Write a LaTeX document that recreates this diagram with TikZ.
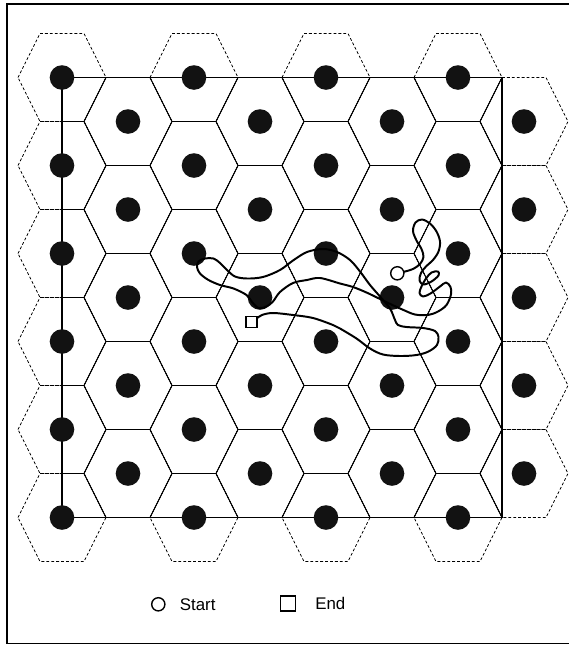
\documentclass[tikz,border=0pt]{standalone}
\usepackage{fontspec}
\setmainfont{Liberation Sans}
\usetikzlibrary{positioning}

\newcommand{\forsites}[1]{%
  \foreach \cx in {62,194,326,458}{\foreach \cy in {77.5,165.5,253.5,341.5,429.5,517.5}{#1}}%
  \foreach \cx in {128,260,392,524}{\foreach \cy in {121.5,209.5,297.5,385.5,473.5}{#1}}%
}

\begin{document}
\begin{tikzpicture}[
  x=0.025cm, y=-0.025cm,
  cell/.style={line width=0.5pt},
  outcell/.style={cell,dash pattern=on 2pt off 1.5pt},
  site/.style={fill=black!93},
  box/.style={line width=1.2pt},
  frame/.style={line width=1.4pt},
  walk/.style={line width=1.4pt,line join=round},
  startmark/.style={circle,draw,fill=white,line width=1pt,minimum size=3.3mm,inner sep=0pt},
  endmark/.style={rectangle,draw,fill=white,line width=1pt,minimum size=2.8mm,inner sep=0pt},
  legend/.style={font=\fontsize{12}{14}\selectfont,inner sep=0pt}
]
\useasboundingbox (0,0) rectangle (569,646);
\coordinate (framenw) at (7,4);
\coordinate (framese) at (590,643.5);
\coordinate (sqnw) at (62,77.5);
\coordinate (sqse) at (502,517.5);
\coordinate (s0) at (397.3,273.3);
\coordinate (e0) at (251.5,322);

\draw[frame] (framenw) rectangle (framese);

\forsites{\draw[outcell] (\cx-44,\cy) -- ++(22,-44) -- ++(44,0) -- ++(22,44) -- ++(-22,44) -- ++(-44,0) -- cycle;}
\begin{scope}
  \clip (sqnw) rectangle (sqse);
  \forsites{\draw[cell] (\cx-44,\cy) -- ++(22,-44) -- ++(44,0) -- ++(22,44) -- ++(-22,44) -- ++(-44,0) -- cycle;}
\end{scope}
\draw[box] (sqnw) rectangle (sqse);
\forsites{\fill[site] (\cx,\cy) circle[radius=12.3];}

\draw[walk] plot[smooth,tension=0.55] coordinates {
  (s0) (405,271.5) (413,269) (420,264) (423.5,257) (421.5,249) (416.5,240.5)
  (413,231) (415.5,222.5) (422,219.5) (430,223.5) (436.5,231.5) (440,241.5)
  (438.5,251.5) (433,260) (426,266.5) (421,273) (419.5,280.5) (423.5,284.5)
  (431.5,281.5) (438.5,275.5) (438,271.5) (431.5,272.5) (426,278.5) (421.5,286.5)
  (419.5,293) (423,296.5) (430.5,293.5) (440,286.5) (446,282.5) (450.5,287)
  (451,294.5) (446.5,305) (438,311.5) (428,315) (415,314.5) (403.5,310)
  (393.5,305.5) (380,299) (366.5,292.5) (353,287) (340,283.5) (320,278)
  (307,280) (293,283) (280,292) (273,301.5) (266.5,306.5) (258.5,308)
  (252,302) (246.5,295) (233.5,288.5) (220,285) (208.5,280) (200,273.5)
  (197,267) (198.5,261.5) (205,258.5) (213.5,258.5) (220,263) (227,270)
  (235,276.5) (247,278.5) (263,277) (280,270) (293,260.5) (307,252)
  (323,249) (337,252) (350,260) (360,271.5) (370,285) (380,296.5)
  (390,308.5) (395,320) (398,325) (406.5,327) (423,328) (435,331)
  (438.5,337) (437,345) (428.5,351.5) (416.5,355) (400,356) (383,354.5)
  (370,348.5) (356.5,338.5) (340,328.5) (333,325) (313,318) (293,315)
  (273,313) (262,315) (256,319) (e0)};

\node[startmark] (start) at (s0) {};
\node[endmark] (end) at (e0) {};

\node[startmark] (legstart) at (158.3,604.3) {};
\node[legend,right=0.35cm of legstart] (starttext) {Start};
\node[endmark,minimum size=3.75mm] (legend) at (288,603.5) {};
\node[legend,right=0.47cm of legend] (endtext) {End};
\end{tikzpicture}
\end{document}
